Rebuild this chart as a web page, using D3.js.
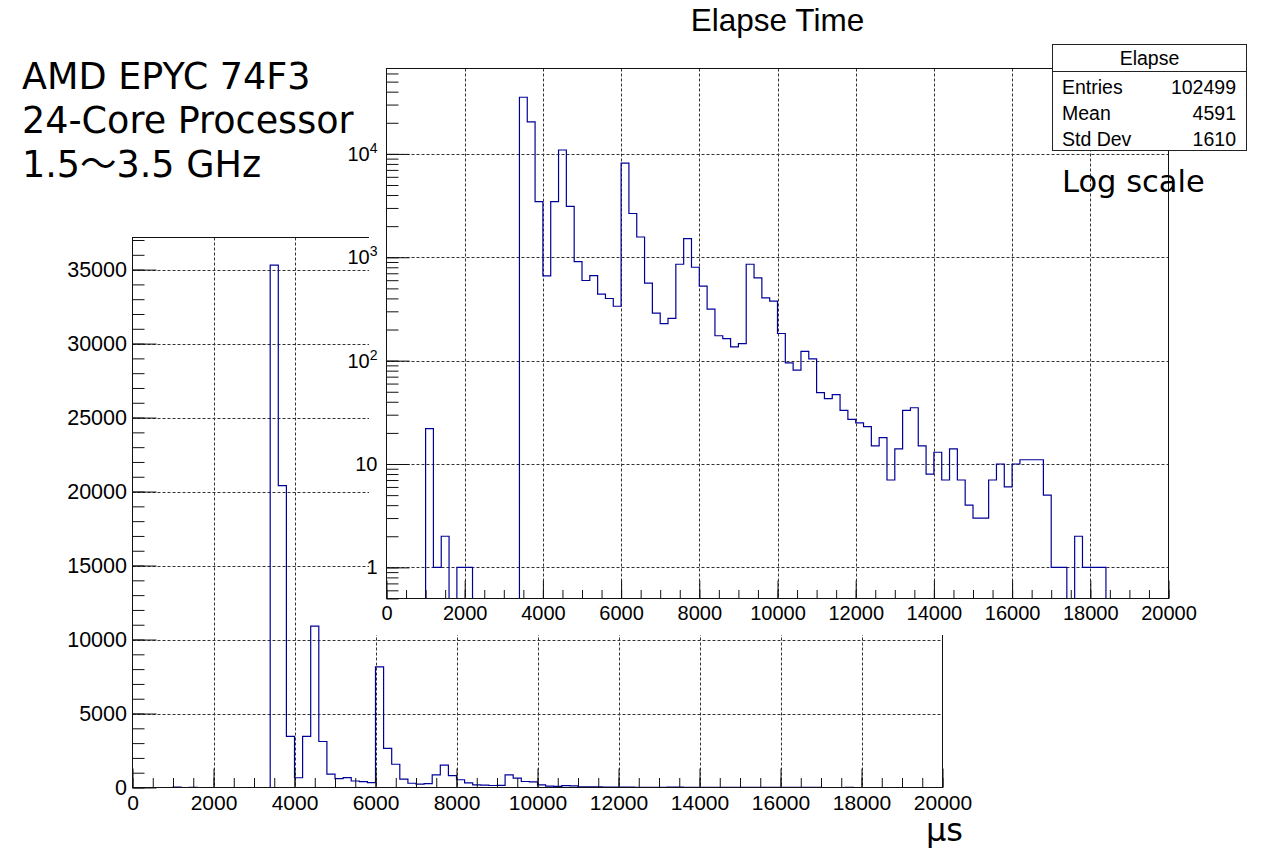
<!DOCTYPE html>
<html lang="en">
<head>
<meta charset="UTF-8">
<title>Elapse Time</title>
<script src="https://d3js.org/d3.v7.min.js"></script>
<style>
  html, body { margin: 0; padding: 0; background: #fff; }
  svg { display: block; }
  .ax text { font-family: "Liberation Sans", Arial, sans-serif; fill: #000; }
  .note { font-family: "DejaVu Sans", "Noto Sans CJK JP", sans-serif; fill: #000; }
</style>
</head>
<body>
<svg id="chart" width="1261" height="850"></svg>
<script>
// Elapse time histogram, 200 us bins from 0 to 20000 us.
// counts[] starts at the bin 1000-1200, everything outside is empty.
const binWidth = 200;
const firstBin = 1000;
const counts = [
  22, 1, 2, 0, 1, 1, 0, 0, 0, 0, 0, 0,                 // 1000 - 3200
  35300, 20400, 3450, 660, 3450, 10900, 3110, 908,     // 3400 - 4800
  596, 665, 440, 399, 336, 8150, 2650, 1570,           // 5000 - 6400
  561, 288, 228, 256, 856, 1513, 801, 525,             // 6600 - 8000
  315, 174, 163, 136, 146, 856, 632, 405,              // 8200 - 9600
  377, 183, 95, 81, 123, 104, 49, 43,                  // 9800 - 11200
  47, 33, 27, 25, 23, 15, 18, 7,                       // 11400 - 12800
  14, 33, 35, 15, 8, 13, 7, 14,                        // 13000 - 14400
  7, 4, 3, 3, 7, 10, 6, 10,                            // 14600 - 16000
  11, 11, 11, 5, 1, 1, 0, 2,                           // 16200 - 17600
  1, 1, 1                                              // 17800 - 18200
];
const xTicks = [0, 2000, 4000, 6000, 8000, 10000, 12000, 14000, 16000, 18000, 20000];
const linYTicks = [0, 5000, 10000, 15000, 20000, 25000, 30000, 35000];
const logYTicks = [1, 10, 100, 1000, 10000];
const statsTitle = "Elapse";
const statsLabels = ["Entries", "Mean", "Std Dev"];
const statsValues = ["102499", "4591", "1610"];
const cpuLines = ["AMD EPYC 74F3", "24-Core Processor", "1.5\uFF5E3.5 GHz"];
const plotTitle = "Elapse Time";
const unitLabel = "\u00B5s";
const logNote = "Log scale";

const histColor = "#000099";
const svg = d3.select("#chart");

// full list of bins (low edge, content)
const bins = d3.range(0, 20000, binWidth).map(low => {
  const i = (low - firstBin) / binWidth;
  return { low: low, v: (i >= 0 && i < counts.length) ? counts[i] : 0 };
});
bins.push({ low: 20000, v: bins[bins.length - 1].v });

// minor tick helpers
function minorLinear(step, max) { return d3.range(0, max + 1, step); }
function minorLog(lo, hi) {
  const out = [];
  for (let e = -1; e <= 5; e++) {
    for (let m = 1; m < 10; m++) {
      const v = m * Math.pow(10, e);
      if (v >= lo && v <= hi) out.push(v);
    }
  }
  return out;
}

function drawPlot(opt) {
  const g = svg.append("g").attr("class", "ax");
  const x = d3.scaleLinear().domain([0, 20000]).range([opt.x0, opt.x1]);
  const y = opt.y;

  // grid
  const grid = g.append("g")
    .attr("stroke", "#333").attr("stroke-width", 1).attr("stroke-dasharray", "3,2");
  grid.selectAll("line.gx").data(xTicks.slice(1, -1)).join("line")
    .attr("x1", d => Math.round(x(d)) + 0.5).attr("x2", d => Math.round(x(d)) + 0.5)
    .attr("y1", opt.y0).attr("y2", opt.y1);
  grid.selectAll("line.gy").data(opt.yGrid).join("line")
    .attr("y1", d => Math.round(y(d)) + 0.5).attr("y2", d => Math.round(y(d)) + 0.5)
    .attr("x1", opt.x0).attr("x2", opt.x1);

  // histogram
  const clipId = "clip" + opt.name;
  svg.append("clipPath").attr("id", clipId).append("rect")
    .attr("x", opt.x0).attr("y", opt.y0)
    .attr("width", opt.x1 - opt.x0).attr("height", opt.y1 - opt.y0 + 1);
  const line = d3.line()
    .x(d => x(d.low))
    .y(d => y(opt.clampV(d.v)))
    .curve(d3.curveStepAfter);
  g.append("path")
    .datum(bins)
    .attr("clip-path", "url(#" + clipId + ")")
    .attr("fill", "none")
    .attr("stroke", histColor)
    .attr("stroke-width", 1.2)
    .attr("d", line);

  // x axis: minor then major ticks (inside the frame)
  g.append("g").attr("transform", `translate(0,${opt.y1})`)
    .call(d3.axisBottom(x).tickValues(minorLinear(500, 20000)).tickSize(-opt.xMinor).tickFormat(""))
    .call(a => a.select(".domain").remove());
  g.append("g").attr("transform", `translate(0,${opt.y1})`)
    .call(d3.axisBottom(x).tickValues(xTicks).tickSize(-opt.xMajor).tickPadding(opt.xPad)
      .tickFormat(d3.format("d")))
    .call(a => a.select(".domain").remove())
    .call(a => a.selectAll("text").attr("font-size", opt.xFont));

  // y axis
  g.append("g").attr("transform", `translate(${opt.x0},0)`)
    .call(d3.axisLeft(y).tickValues(opt.yMinorTicks).tickSize(-opt.yMinor).tickFormat(""))
    .call(a => a.select(".domain").remove());
  const ya = g.append("g").attr("transform", `translate(${opt.x0},0)`)
    .call(d3.axisLeft(y).tickValues(opt.yTicks).tickSize(-opt.yMajor).tickPadding(opt.yPad)
      .tickFormat(opt.yFormat))
    .call(a => a.select(".domain").remove())
    .call(a => a.selectAll("text").attr("font-size", opt.yFont));
  g.selectAll(".tick line").attr("stroke", "#111");
  if (opt.after) opt.after(ya);

  // frame
  g.append("rect")
    .attr("x", opt.x0).attr("y", opt.y0)
    .attr("width", opt.x1 - opt.x0).attr("height", opt.y1 - opt.y0)
    .attr("fill", "none").attr("stroke", "#111").attr("stroke-width", 1);
  return g;
}

// ---- linear histogram (back) ----
const linFrame = { x0: 132.5, x1: 942.5, y0: 237.5, y1: 787.5 };
drawPlot(Object.assign({
  name: "lin",
  y: d3.scaleLinear().domain([0, 37170]).range([linFrame.y1, linFrame.y0]),
  clampV: v => v,
  yGrid: linYTicks.slice(1),
  yTicks: linYTicks,
  yMinorTicks: minorLinear(1000, 37000),
  yFormat: d3.format("d"),
  xMajor: 19, xMinor: 9.5, xPad: 8, xFont: 21,
  yMajor: 24, yMinor: 12, yPad: 5.5, yFont: 21.5
}, linFrame));

// white pad for the log inset
svg.append("rect").attr("x", 369).attr("y", 0).attr("width", 892).attr("height", 635).attr("fill", "#fff");

// ---- log histogram (front) ----
const logFrame = { x0: 386.5, x1: 1168.5, y0: 68.5, y1: 598.5 };
const yMinLog = 0.5, yMaxLog = 67000;
drawPlot(Object.assign({
  name: "log",
  y: d3.scaleLog().domain([yMinLog, yMaxLog]).range([logFrame.y1, logFrame.y0]),
  clampV: v => Math.max(v, yMinLog),
  yGrid: logYTicks,
  yTicks: logYTicks,
  yMinorTicks: minorLog(yMinLog, yMaxLog),
  yFormat: () => "",
  xMajor: 18, xMinor: 8.5, xPad: 7, xFont: 20,
  yMajor: 23, yMinor: 12, yPad: 9, yFont: 20,
  after: ya => {
    // ROOT style labels: 1, 10, 10^2, 10^3, 10^4
    ya.selectAll(".tick text").each(function (d) {
      const t = d3.select(this).attr("font-size", 20);
      const e = Math.round(Math.log10(d));
      if (e < 2) { t.text(String(d)); return; }
      t.text("10");
      t.append("tspan").attr("font-size", 14).attr("dy", "-0.55em").text(String(e));
    });
  }
}, logFrame));

// title
svg.append("text").attr("class", "ax")
  .attr("x", (logFrame.x0 + logFrame.x1) / 2).attr("y", 31)
  .attr("text-anchor", "middle")
  .style("font-family", '"Liberation Sans", Arial, sans-serif')
  .attr("font-size", 31.5).text(plotTitle);

// stats box
const sb = svg.append("g").style("font-family", '"Liberation Sans", Arial, sans-serif');
sb.append("rect").attr("x", 1052.5).attr("y", 44.5).attr("width", 194).attr("height", 106)
  .attr("fill", "#fff").attr("stroke", "#222");
sb.append("line").attr("x1", 1052.5).attr("x2", 1246.5).attr("y1", 71.5).attr("y2", 71.5).attr("stroke", "#222");
sb.append("text").attr("x", 1149.5).attr("y", 65).attr("text-anchor", "middle")
  .attr("font-size", 19.5).text(statsTitle);
sb.selectAll("text.lab").data(statsLabels).join("text")
  .attr("x", 1062).attr("y", (d, i) => 93.5 + i * 26)
  .attr("font-size", 19.5).text(d => d);
sb.selectAll("text.val").data(statsValues).join("text")
  .attr("x", 1236).attr("y", (d, i) => 93.5 + i * 26).attr("text-anchor", "end")
  .attr("font-size", 19.5).text(d => d);

// annotations
svg.append("text").attr("class", "note").attr("x", 1062).attr("y", 192)
  .attr("font-size", 30.5).text(logNote);
svg.selectAll("text.cpu").data(cpuLines).join("text")
  .attr("class", "note").attr("x", 22).attr("y", (d, i) => 89 + i * 44)
  .attr("font-size", 36.5).text(d => d);
svg.append("text").attr("class", "note").attr("x", 926).attr("y", 841)
  .attr("font-size", 32).text(unitLabel);
</script>
</body>
</html>
